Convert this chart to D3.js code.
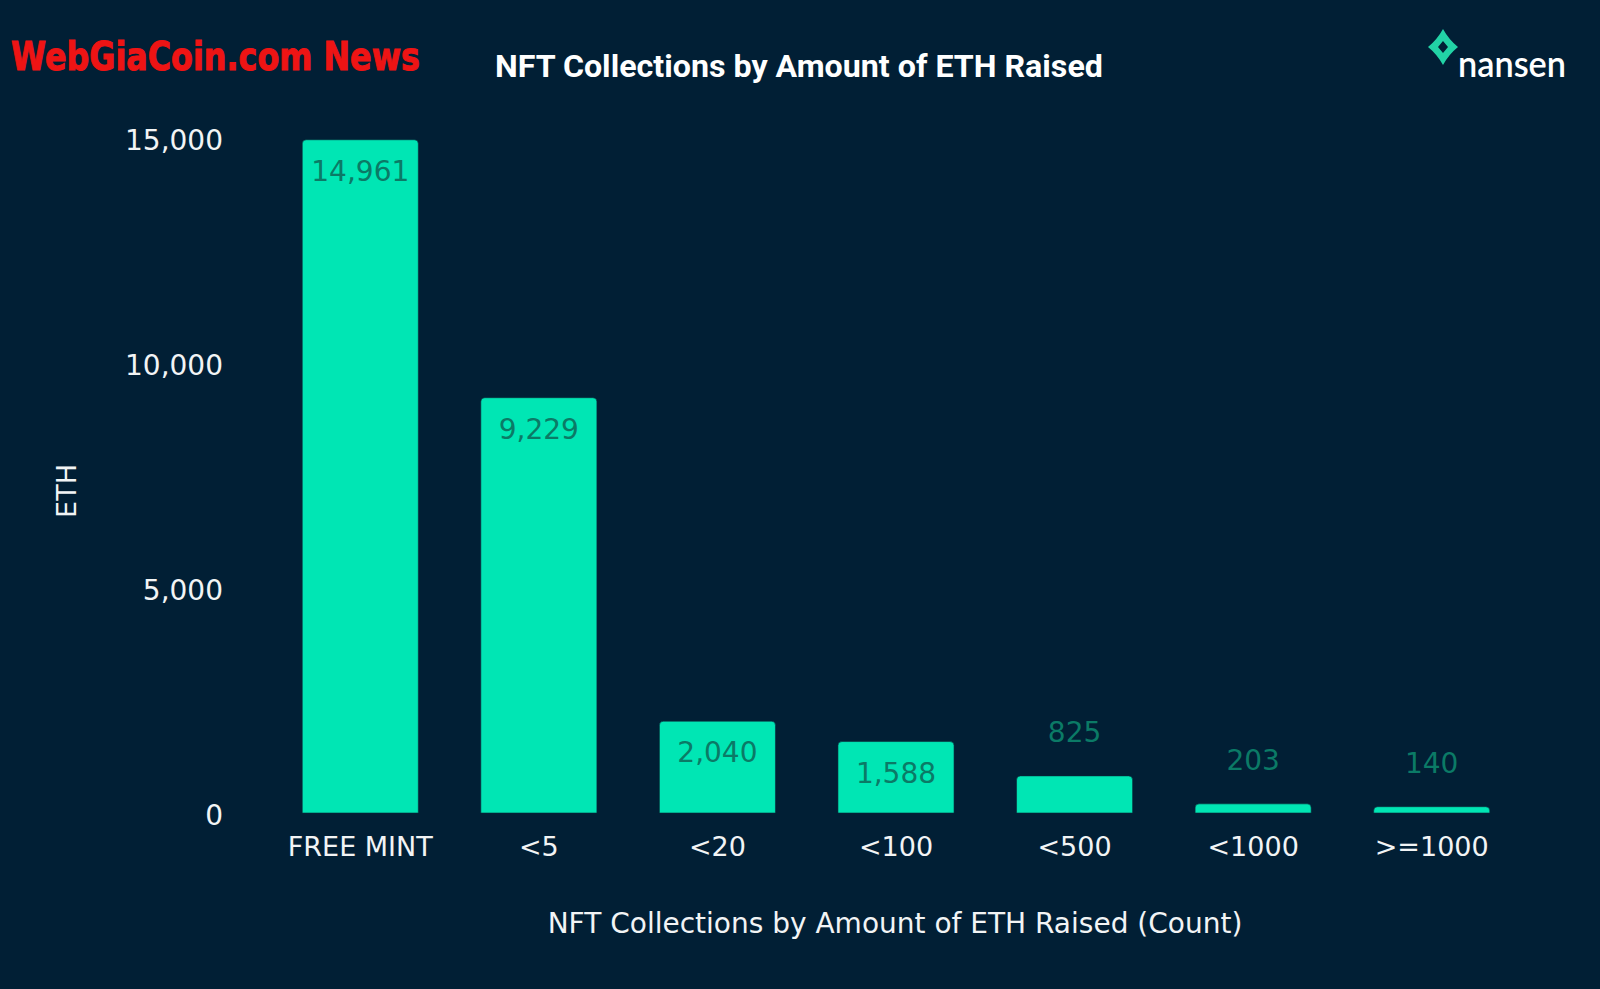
<!DOCTYPE html>
<html><head><meta charset="utf-8">
<script src="https://cdn.jsdelivr.net/npm/d3@7"></script>
<style>html,body{margin:0;padding:0;background:#011f35;overflow:hidden}</style>
</head><body>
<script>
const categories = ["FREE MINT","<5","<20","<100","<500","<1000",">=1000"];
const values = [14961,9229,2040,1588,825,203,140];
const yTicks = [0,5000,10000,15000];
const title = "NFT Collections by Amount of ETH Raised";
const xTitle = "NFT Collections by Amount of ETH Raised (Count)";
const yTitle = "ETH";

const W=1600,H=989;
const bg="#011f35", barColor="#00e6b4", labelColor="#0b7a66", textColor="#f2f4f5";
const svg=d3.select("body").append("svg").attr("width",W).attr("height",H);
svg.append("rect").attr("width",W).attr("height",H).attr("fill",bg);

const x=d3.scaleBand().domain(categories).range([271,1521]).paddingInner(0.35).paddingOuter(0.175);
const y=d3.scaleLinear().domain([0,15000]).range([813,138]);
const fontAx="'DejaVu Sans', Verdana, sans-serif";

// y ticks
const yAxis=d3.axisLeft(y).tickValues(yTicks).tickFormat(d3.format(",")).tickSize(0).tickPadding(0);
const gy=svg.append("g").attr("transform","translate(223,0)").call(yAxis);
gy.select(".domain").remove();
gy.selectAll("text").attr("fill",textColor).style("font-family",fontAx).style("font-size","28px").attr("dy","0.42em");

// x ticks
const xAxis=d3.axisBottom(x).tickSize(0).tickPadding(0);
const gx=svg.append("g").attr("transform","translate(0,836)").call(xAxis);
gx.select(".domain").remove();
gx.selectAll("text").attr("fill",textColor).style("font-family",fontAx).style("font-size","27px").attr("dy","0.75em");

// bars with rounded top corners
const r=4;
function barPath(d,i){
  const x0=x(categories[i]), w=x.bandwidth(), y0=y(d), y1=y(0);
  const rr=Math.min(r,(y1-y0));
  return `M${x0},${y1}L${x0},${y0+rr}Q${x0},${y0} ${x0+rr},${y0}L${x0+w-rr},${y0}Q${x0+w},${y0} ${x0+w},${y0+rr}L${x0+w},${y1}Z`;
}
svg.append("g").selectAll("path").data(values).join("path")
  .attr("d",barPath).attr("fill",barColor).attr("stroke","#0a2a3a").attr("stroke-width",0.6);

// value labels
svg.append("g").selectAll("text").data(values).join("text")
  .attr("x",(d,i)=>x(categories[i])+x.bandwidth()/2)
  .attr("y",d=>{const top=y(d); return (y(0)-top)>60 ? top+41 : top-34;})
  .attr("text-anchor","middle").attr("fill",labelColor)
  .style("font-family",fontAx).style("font-size","28px")
  .text(d=>d3.format(",")(d));

// titles
svg.append("text").attr("x",799).attr("y",77).attr("text-anchor","middle").attr("fill","#ffffff")
  .style("font-family","Roboto, sans-serif").style("font-weight","700").style("font-size","32.2px").text(title);
svg.append("text").attr("x",895).attr("y",933).attr("text-anchor","middle").attr("fill",textColor)
  .style("font-family",fontAx).style("font-size","28px").text(xTitle);
svg.append("text").attr("transform","translate(76,491) rotate(-90)").attr("text-anchor","middle").attr("fill",textColor)
  .style("font-family",fontAx).style("font-size","27px").text(yTitle);

// watermark
svg.append("text").attr("x",11).attr("y",70).attr("fill","#ee1414").attr("stroke","#ee1414").attr("stroke-width",1)
  .attr("textLength",409).attr("lengthAdjust","spacingAndGlyphs")
  .style("font-family","'DejaVu Sans', sans-serif").style("font-weight","bold").style("font-size","39px")
  .text("WebGiaCoin.com News");

// nansen logo
const lg=svg.append("g").attr("transform","translate(1443,47)");
const sx=15, sy=18, k=0.4;
lg.append("path").attr("fill","#22d3a6").attr("fill-rule","evenodd")
  .attr("d",`M0,${-sy}Q${sx*k},${-sy*k} ${sx},0Q${sx*k},${sy*k} 0,${sy}Q${-sx*k},${sy*k} ${-sx},0Q${-sx*k},${-sy*k} 0,${-sy}Z M0,-6L5,0L0,6L-5,0Z`);
svg.append("text").attr("x",1458).attr("y",77).attr("fill","#ffffff")
  .attr("textLength",108).attr("lengthAdjust","spacingAndGlyphs")
  .style("font-family","Lato, sans-serif").style("font-weight","600").style("font-size","37px").text("nansen");
</script>
</body></html>
